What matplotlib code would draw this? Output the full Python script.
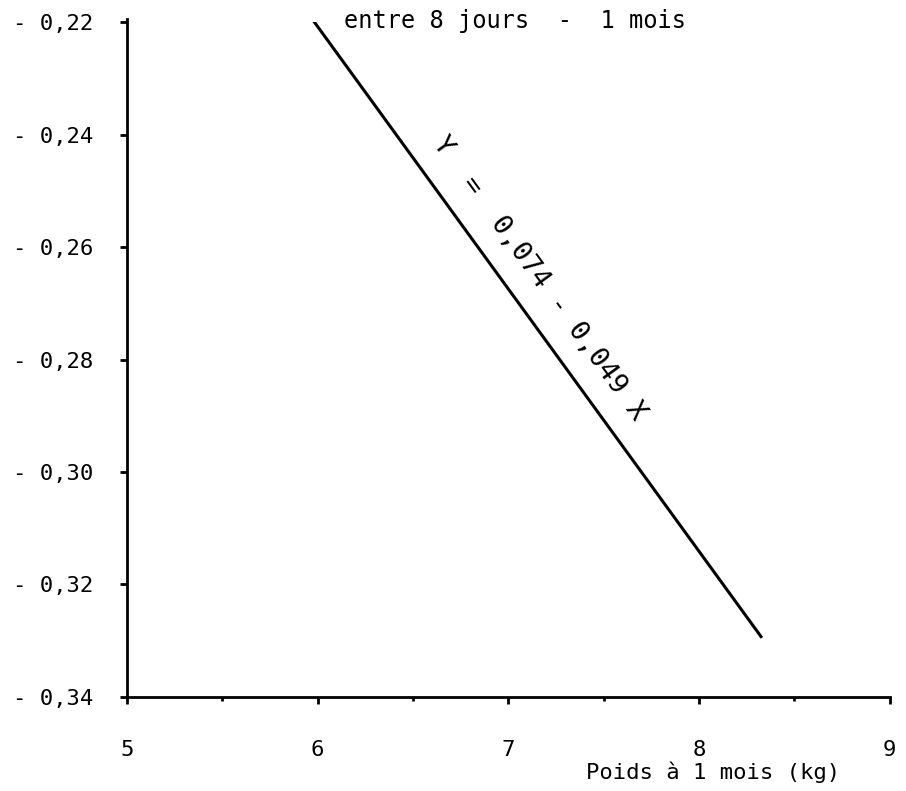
import matplotlib
matplotlib.use("Agg")
import matplotlib.pyplot as plt
import numpy as np

# regression line as drawn (endpoints)
x_vals = [5.975, 8.33]
y_vals = [-0.2196, -0.3295]
x_ticks = [5, 6, 7, 8, 9]
x_minor = [5.5, 6.5, 7.5, 8.5]
y_ticks = [-0.34, -0.32, -0.30, -0.28, -0.26, -0.24, -0.22]
y_tick_labels = ["- 0,34", "- 0,32", "- 0,30", "- 0,28", "- 0,26", "- 0,24", "- 0,22"]
title = "entre 8 jours  -  1 mois"
xlabel = "Poids à 1 mois (kg)"
equation = "Y  =  0,074 - 0,049 X"

plt.rcParams['font.family'] = ['DejaVu Sans Mono', 'DejaVu Sans']
fig = plt.figure(figsize=(9.06, 7.91), dpi=100)
ax = fig.add_axes([0.140, 0.119, 0.842, 0.853])
ax.plot(x_vals, y_vals, color='black', lw=2.2, solid_capstyle='butt')
ax.set_xlim(5, 9)
ax.set_ylim(-0.34, -0.22)
for s in ['top', 'right']:
    ax.spines[s].set_visible(False)
for s in ['left', 'bottom']:
    ax.spines[s].set_linewidth(2)
ax.spines['left'].set_bounds(-0.34, -0.2195)
ax.set_xticks(x_ticks)
ax.set_xticklabels([str(t) for t in x_ticks], fontsize=16)
ax.set_xticks(x_minor, minor=True)
ax.set_yticks(y_ticks)
ax.set_yticklabels(y_tick_labels, fontsize=16)
ax.tick_params(axis='x', which='major', direction='out', length=5, width=2, pad=26)
ax.tick_params(axis='x', which='minor', direction='out', length=3, width=2)
ax.tick_params(axis='y', which='both', direction='out', length=5, width=2, pad=19)

ax.text(0.5085, 1.002, title, fontsize=17, ha='center', va='center', transform=ax.transAxes)
ax.text(0.768, -0.111, xlabel, fontsize=16, ha='center', va='center',
        transform=ax.transAxes, clip_on=False)

# equation along the line
fig.canvas.draw()
p0 = ax.transData.transform((x_vals[0], y_vals[0]))
p1 = ax.transData.transform((x_vals[1], y_vals[1]))
ang = np.degrees(np.arctan2(p1[1] - p0[1], p1[0] - p0[0]))
xe = 7.03
ye = np.interp(xe, x_vals, y_vals)
ax.annotate(equation, xy=(xe, ye), xytext=(18.3, 13),
            textcoords='offset points', fontsize=19.5, rotation=ang,
            rotation_mode='anchor', ha='center', va='center')

fig.savefig("out.png", dpi=100)
